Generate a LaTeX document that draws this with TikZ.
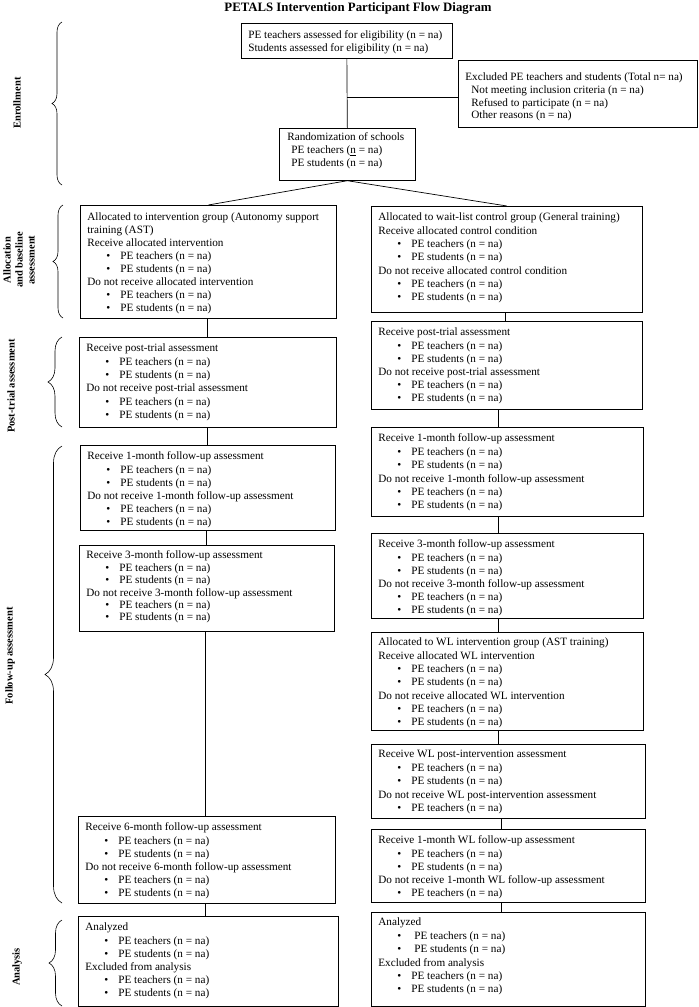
\documentclass[tikz,border=0pt]{standalone}
\usepackage{fontspec}
\setmainfont{Liberation Serif}
\usetikzlibrary{decorations.pathreplacing,calc}
\tikzset{
  flow/.style={draw, line width=0.7pt, inner sep=0pt, anchor=north west, font=\fontsize{11.2}{13.2}\selectfont},
  conn/.style={line width=0.7pt},
  brc/.style={decorate, decoration={brace, amplitude=#1}, line width=0.6pt},
  side/.style={rotate=90, font=\bfseries\fontsize{10.5}{12}\selectfont, align=center, inner sep=0pt},
}
\newcommand{\bul}{\hspace*{19pt}\makebox[14pt][l]{\textbullet}}
\newcommand{\bulw}{\hspace*{19pt}\makebox[17pt][l]{\textbullet}}
% name, x, y, w, h, first baseline, baselineskip, content
\newcommand{\flowbox}[8]{%
  \node[flow] (#1) at (#2,#3) {\begin{minipage}[c][#5pt][t]{#4pt}\raggedright\leftskip=7pt\baselineskip=#7pt\rule{0pt}{#6pt}#8\end{minipage}};}
\begin{document}
\begin{tikzpicture}[x=1pt,y=-1pt]
\useasboundingbox (0,0) rectangle (699,1007);

\node[font=\bfseries\fontsize{12.8}{15}\selectfont, inner sep=0pt] (title) at (358,8) {PETALS Intervention Participant Flow Diagram};

% enrollment
\flowbox{top}{241}{23}{211}{35}{15.5}{12.5}{PE teachers assessed for eligibility (n = na)\\
Students assessed for eligibility (n = na)}
\flowbox{excl}{458}{60}{239}{67}{20.5}{12.7}{Excluded PE teachers and students (Total n= na)\\
\hspace*{6pt}Not meeting inclusion criteria (n = na)\\
\hspace*{6pt}Refused to participate (n = na)\\
\hspace*{6pt}Other reasons (n = na)}
\flowbox{rand}{279}{128}{136}{52}{12.5}{13}{\hspace*{1pt}Randomization of schools\\
\hspace*{5pt}PE teachers (\underline{n} = na)\\
\hspace*{5pt}PE students (n = na)}

% left column
\flowbox{L1}{80}{205}{256}{113}{15.5}{12.9}{Allocated to intervention group (Autonomy support\\
training (AST)\\
Receive allocated intervention\\
\bul PE teachers (n = na)\\
\bul PE students (n = na)\\
Do not receive allocated intervention\\
\bul PE teachers (n = na)\\
\bul PE students (n = na)}
\flowbox{L2}{79}{337}{257}{90}{14.5}{13.3}{Receive post-trial assessment\\
\bul PE teachers (n = na)\\
\bul PE students (n = na)\\
Do not receive post-trial assessment\\
\bul PE teachers (n = na)\\
\bul PE students (n = na)}
\flowbox{L3}{80}{445}{255}{85}{14.5}{13.2}{Receive 1-month follow-up assessment\\
\bul PE teachers (n = na)\\
\bul PE students (n = na)\\
Do not receive 1-month follow-up assessment\\
\bul PE teachers (n = na)\\
\bul PE students (n = na)}
\flowbox{L4}{79}{545}{255}{86}{13.5}{12.4}{Receive 3-month follow-up assessment\\
\bul PE teachers (n = na)\\
\bul PE students (n = na)\\
Do not receive 3-month follow-up assessment\\
\bul PE teachers (n = na)\\
\bul PE students (n = na)}
\flowbox{L5}{78}{816}{257}{87}{14.5}{13.2}{Receive 6-month follow-up assessment\\
\bul PE teachers (n = na)\\
\bul PE students (n = na)\\
Do not receive 6-month follow-up assessment\\
\bul PE teachers (n = na)\\
\bul PE students (n = na)}
\flowbox{L6}{78}{916}{260}{90}{14.5}{13.2}{Analyzed\\
\bul PE teachers (n = na)\\
\bul PE students (n = na)\\
Excluded from analysis\\
\bul PE teachers (n = na)\\
\bul PE students (n = na)}

% right column
\flowbox{R1}{371}{206}{271}{106}{14.5}{13.3}{Allocated to wait-list control group (General training)\\
Receive allocated control condition\\
\bul PE teachers (n = na)\\
\bul PE students (n = na)\\
Do not receive allocated control condition\\
\bul PE teachers (n = na)\\
\bul PE students (n = na)}
\flowbox{R2}{371}{321}{271}{88}{14.5}{13.2}{Receive post-trial assessment\\
\bul PE teachers (n = na)\\
\bul PE students (n = na)\\
Do not receive post-trial assessment\\
\bul PE teachers (n = na)\\
\bul PE students (n = na)}
\flowbox{R3}{371}{427}{272}{89}{14.5}{13.4}{Receive 1-month follow-up assessment\\
\bul PE teachers (n = na)\\
\bul PE students (n = na)\\
Do not receive 1-month follow-up assessment\\
\bul PE teachers (n = na)\\
\bul PE students (n = na)}
\flowbox{R4}{371}{533}{272}{85}{14.5}{13.2}{Receive 3-month follow-up assessment\\
\bul PE teachers (n = na)\\
\bul PE students (n = na)\\
Do not receive 3-month follow-up assessment\\
\bul PE teachers (n = na)\\
\bul PE students (n = na)}
\flowbox{R5}{371}{632}{272}{98}{13.5}{13.3}{Allocated to WL intervention group (AST training)\\
Receive allocated WL intervention\\
\bul PE teachers (n = na)\\
\bul PE students (n = na)\\
Do not receive allocated WL intervention\\
\bul PE teachers (n = na)\\
\bul PE students (n = na)}
\flowbox{R6}{371}{744}{274}{74}{13.5}{13.5}{Receive WL post-intervention assessment\\
\bul PE teachers (n = na)\\
\bul PE students (n = na)\\
Do not receive WL post-intervention assessment\\
\bul PE teachers (n = na)}
\flowbox{R7}{371}{829}{274}{73}{14.5}{13.2}{Receive 1-month WL follow-up assessment\\
\bul PE teachers (n = na)\\
\bul PE students (n = na)\\
Do not receive 1-month WL follow-up assessment\\
\bul PE teachers (n = na)}
\flowbox{R8}{371}{912}{274}{94}{13.5}{13.4}{Analyzed\\
\bulw PE teachers (n = na)\\
\bulw PE students (n = na)\\
Excluded from analysis\\
\bul PE teachers (n = na)\\
\bul PE students (n = na)}

% connectors
\draw[conn] (top.south) -- (rand.north);
\coordinate (br) at ($(top.south)!0.557!(rand.north)$);
\draw[conn] (br) -- (br -| excl.west);
\draw[conn] (rand.south) -- (L1.north);
\draw[conn] (rand.south) -- (R1.north);

\draw[conn] ([xshift=127pt]L1.south west) -- ([xshift=128pt]L2.north west);
\draw[conn] ([xshift=128pt]L2.south west) -- ([xshift=127pt]L3.north west);
\draw[conn] ([xshift=126pt]L3.south west) -- ([xshift=127pt]L4.north west);
\draw[conn] ([xshift=126pt]L4.south west) -- ([xshift=127pt]L5.north west);
\draw[conn] ([xshift=127pt]L5.south west) -- ([xshift=127pt]L6.north west);

\draw[conn] ([xshift=134pt]R1.south west) -- ([xshift=134pt]R2.north west);
\draw[conn] ([xshift=127pt]R2.south west) -- ([xshift=127pt]R3.north west);
\draw[conn] ([xshift=127pt]R3.south west) -- ([xshift=127pt]R4.north west);
\draw[conn] ([xshift=127pt]R4.south west) -- ([xshift=127pt]R5.north west);
\draw[conn] ([xshift=127pt]R5.south west) -- ([xshift=127pt]R6.north west);
\draw[conn] ([xshift=130pt]R6.south west) -- ([xshift=130pt]R7.north west);
\draw[conn] ([xshift=130pt]R7.south west) -- ([xshift=130pt]R8.north west);

% braces
\draw[brc=10pt] (62,185) -- (62,22);
\draw[brc=10pt] (63,318) -- (63,205);
\draw[brc=14pt] (62,427) -- (62,337);
\draw[brc=17pt] (62,903) -- (62,446);
\draw[brc=13pt] (62,1006) -- (62,920);

% side labels
\node[side] (lenr) at (17,103) {Enrollment};
\node[side] (lalloc) at (19,260) {Allocation\\and baseline\\assessment};
\node[side] (lpost) at (11,386) {Post-trial assessment};
\node[side] (lfol) at (10,656) {Follow-up assessment};
\node[side] (lana) at (17,967) {Analysis};
\end{tikzpicture}
\end{document}
